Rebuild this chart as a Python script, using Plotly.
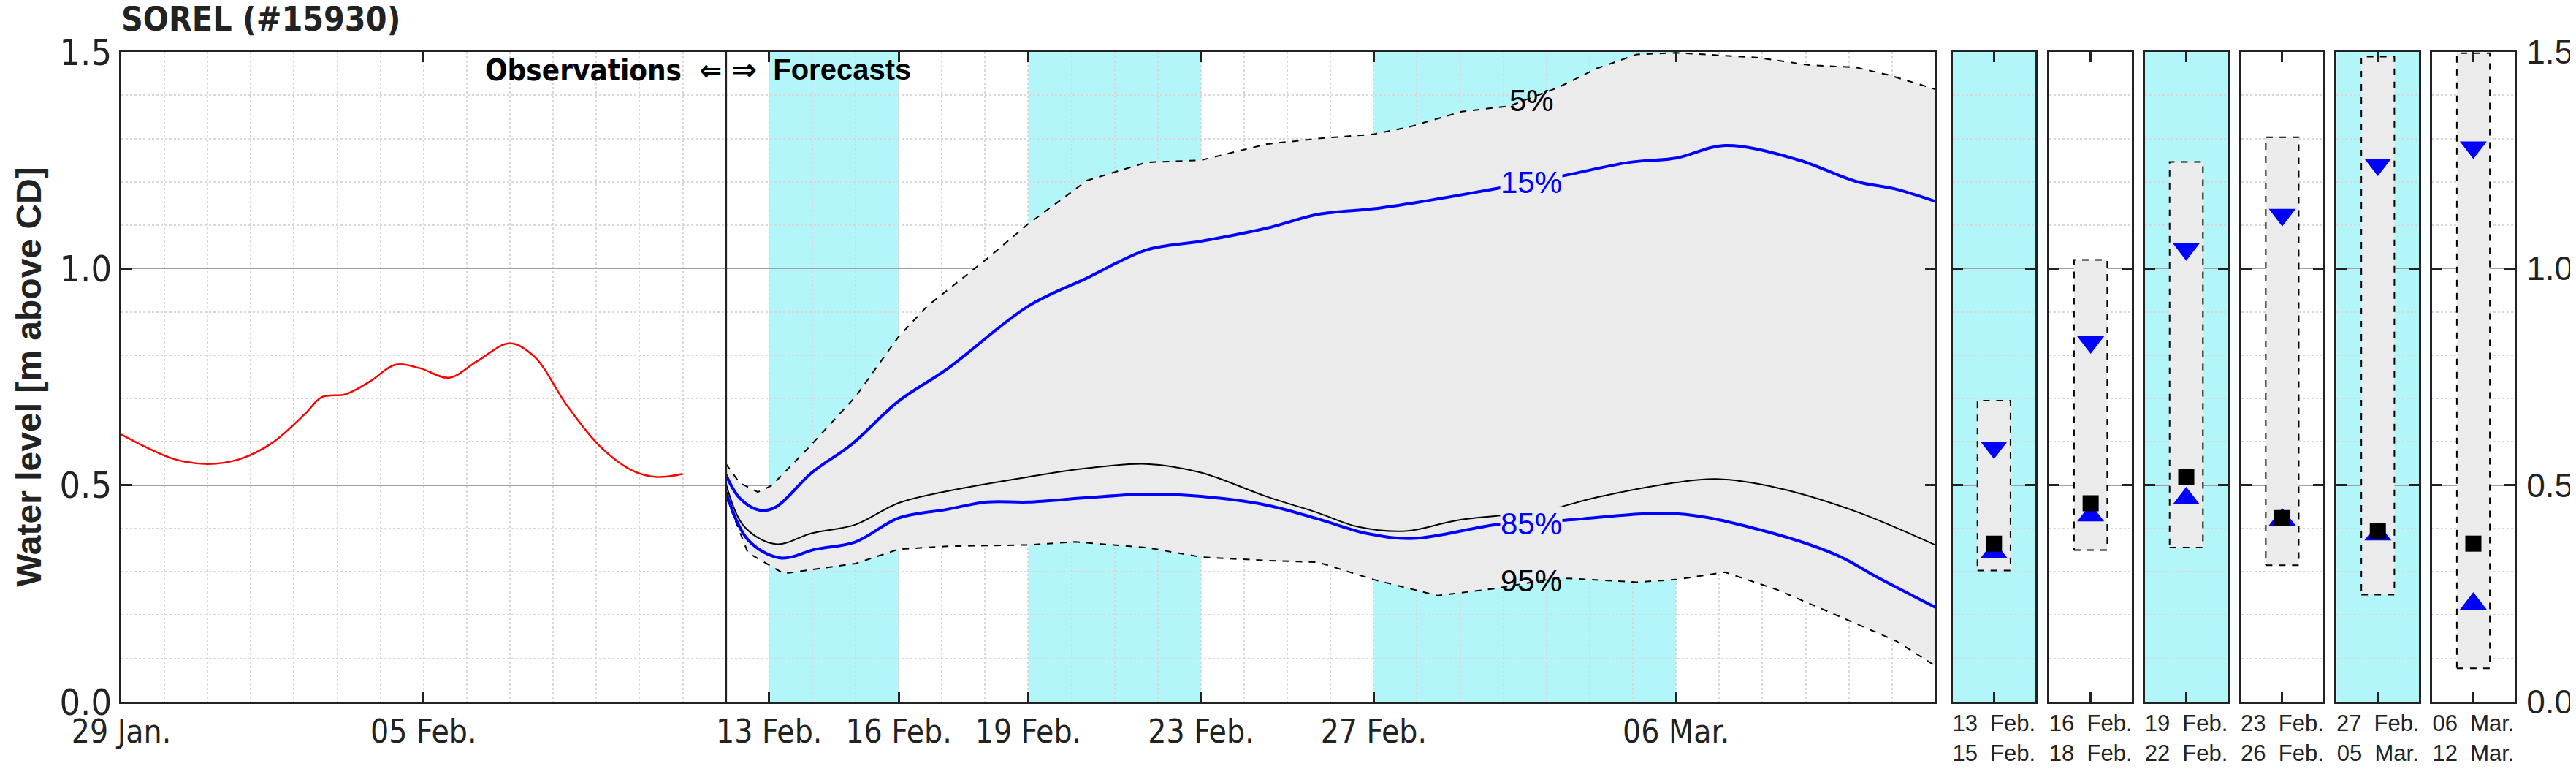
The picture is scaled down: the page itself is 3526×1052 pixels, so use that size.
import pandas as pd
import plotly.graph_objects as go

NARROW = "DejaVu Sans Condensed, Liberation Sans Narrow, sans-serif"
WIDE = "Liberation Sans, Arial, sans-serif"

# observations: days since 29 Jan
obs_days = [0, 1.23, 2.0, 2.74, 3.5, 4.26, 4.64, 5.2, 5.77, 6.34, 6.91, 7.59, 8.24, 8.99, 9.56,
            10.32, 11.08, 11.83, 12.4, 13.0]
obs_vals = [0.617, 0.56, 0.549, 0.56, 0.598, 0.665, 0.703, 0.71, 0.74, 0.778, 0.77, 0.748, 0.786,
            0.827, 0.797, 0.684, 0.59, 0.534, 0.519, 0.526]

# forecasts: days since 12 Feb
p05_days = [0, 0.32, 0.74, 1.06, 1.89, 3.0, 4.0, 4.66, 6.05, 7.0, 8.36, 9.74, 11.0, 12.51, 13.71,
            15.0, 15.83, 17.03, 18.14, 19.25, 20.17, 21.09, 22.0, 22.94, 23.86, 25.06, 26.17, 26.91, 28.0]
p05_vals = [0.549, 0.505, 0.484, 0.499, 0.584, 0.704, 0.843, 0.913, 1.023, 1.103, 1.203, 1.245, 1.25,
            1.287, 1.300, 1.310, 1.327, 1.362, 1.375, 1.417, 1.462, 1.494, 1.498, 1.492, 1.487, 1.470,
            1.464, 1.447, 1.414]
p15_days = [0, 0.32, 0.78, 1.15, 1.99, 2.91, 4.0, 5.12, 7.0, 8.36, 9.74, 11.0, 12.51, 13.71, 15.0,
            16.02, 17.86, 19.43, 20.91, 22.0, 23.13, 24.79, 26.17, 27.1, 28.0]
p15_vals = [0.524, 0.47, 0.442, 0.449, 0.529, 0.594, 0.694, 0.768, 0.913, 0.978, 1.043, 1.063, 1.093,
            1.125, 1.138, 1.153, 1.185, 1.215, 1.245, 1.255, 1.284, 1.252, 1.201, 1.183, 1.155]
p50_days = [0, 0.42, 1.15, 1.99, 3.0, 4.0, 5.12, 7.0, 8.36, 9.74, 11.0, 12.51, 13.71, 14.63, 15.74,
            16.94, 18.97, 20.17, 22.0, 22.94, 24.33, 26.17, 28.0]
p50_vals = [0.504, 0.405, 0.364, 0.389, 0.409, 0.459, 0.486, 0.519, 0.539, 0.549, 0.529, 0.474, 0.436,
            0.404, 0.394, 0.419, 0.442, 0.472, 0.506, 0.514, 0.494, 0.439, 0.362]
p85_days = [0, 0.51, 1.25, 2.08, 3.0, 4.0, 5.12, 6.05, 7.0, 8.36, 9.74, 11.0, 12.51, 13.71, 14.82,
            15.92, 17.86, 19.43, 22.0, 23.86, 25.71, 26.63, 28.0]
p85_vals = [0.484, 0.374, 0.332, 0.352, 0.369, 0.424, 0.444, 0.461, 0.461, 0.471, 0.479, 0.474, 0.454,
            0.422, 0.389, 0.377, 0.409, 0.419, 0.434, 0.399, 0.339, 0.289, 0.218]
p95_days = [0, 0.51, 1.34, 3.0, 4.0, 5.12, 7.0, 8.08, 9.74, 11.0, 12.51, 13.71, 15.0, 16.48, 17.86,
            19.25, 21.09, 22.0, 23.13, 24.33, 25.71, 27.1, 28.0]
p95_vals = [0.474, 0.344, 0.296, 0.319, 0.352, 0.359, 0.362, 0.369, 0.356, 0.334, 0.326, 0.322, 0.282,
            0.245, 0.262, 0.286, 0.276, 0.282, 0.299, 0.259, 0.20, 0.14, 0.083]

# summary panels
panel_labels = ["13  Feb.<br>15  Feb.", "16  Feb.<br>18  Feb.", "19  Feb.<br>22  Feb.",
                "23  Feb.<br>26  Feb.", "27  Feb.<br>05  Mar.", "06  Mar.<br>12  Mar."]
panel_cyan = [True, False, True, False, True, False]
box_low = [0.303, 0.35, 0.356, 0.315, 0.247, 0.077]
box_high = [0.695, 1.02, 1.246, 1.303, 1.489, 1.497]
tri_down = [0.587, 0.83, 1.045, 1.124, 1.24, 1.28]
tri_up = [0.345, 0.43, 0.469, 0.42, 0.386, 0.226]
median_sq = [0.365, 0.458, 0.519, 0.424, 0.395, 0.365]

bands = [("2023-02-13", "2023-02-16"), ("2023-02-19", "2023-02-23"), ("2023-02-27", "2023-03-06")]

obs_start = pd.Timestamp("2023-01-29")
fc_start = pd.Timestamp("2023-02-12")
def to_dates(base, days):
    return [base + pd.Timedelta(days=d) for d in days]

CYAN = "#b3f6fa"
BAND = "#ebebeb"
BLUE = "#0000ff"

fig = go.Figure()
x05, x95 = to_dates(fc_start, p05_days), to_dates(fc_start, p95_days)
fig.add_trace(go.Scatter(x=x05 + x95[::-1], y=p05_vals + p95_vals[::-1], fill="toself", mode="lines",
                         fillcolor=BAND, line=dict(width=0), hoverinfo="skip"))
fig.add_trace(go.Scatter(x=x05, y=p05_vals, mode="lines", line=dict(color="black", width=2, dash="dash")))
fig.add_trace(go.Scatter(x=x95, y=p95_vals, mode="lines", line=dict(color="black", width=2, dash="dash")))
fig.add_trace(go.Scatter(x=to_dates(fc_start, p50_days), y=p50_vals, mode="lines",
                         line=dict(color="black", width=2, shape="spline")))
fig.add_trace(go.Scatter(x=to_dates(fc_start, p15_days), y=p15_vals, mode="lines",
                         line=dict(color=BLUE, width=4, shape="spline")))
fig.add_trace(go.Scatter(x=to_dates(fc_start, p85_days), y=p85_vals, mode="lines",
                         line=dict(color=BLUE, width=4, shape="spline")))
fig.add_trace(go.Scatter(x=to_dates(obs_start, obs_days), y=obs_vals, mode="lines",
                         line=dict(color="red", width=2.5, shape="spline")))

label_x = fc_start + pd.Timedelta(days=18.65)
for txt, yv, col, bg in [("5%", 1.387, "black", None), ("15%", 1.198, BLUE, BAND),
                         ("85%", 0.411, BLUE, BAND), ("95%", 0.279, "black", None)]:
    fig.add_annotation(x=label_x, y=yv, text=txt, showarrow=False, bgcolor=bg,
                       font=dict(family=WIDE, size=42, color=col), borderpad=0)

for a, b in bands:
    fig.add_shape(type="rect", xref="x", yref="y domain", x0=a, x1=b, y0=0, y1=1,
                  fillcolor=CYAN, line_width=0, layer="below")
fig.add_shape(type="line", xref="x", yref="y domain", x0=fc_start, x1=fc_start, y0=0, y1=1,
              line=dict(color="#222", width=3))
fig.add_annotation(x=fc_start, y=1.5, xref="x", yref="y", text="<b>Observations  ⇐</b>", xanchor="right",
                   yanchor="top", showarrow=False, xshift=-4, font=dict(family=NARROW, size=40, color="black"))
fig.add_annotation(x=fc_start, y=1.5, xref="x", yref="y", text="<b>⇒  Forecasts</b>", xanchor="left",
                   yanchor="top", showarrow=False, xshift=6, font=dict(family=WIDE, size=40, color="black"))

main_ticks = ["2023-01-29", "2023-02-05", "2023-02-13", "2023-02-16", "2023-02-19", "2023-02-23",
              "2023-02-27", "2023-03-06"]
main_text = ["29 Jan.", "05 Feb.", "13 Feb.", "16 Feb.", "19 Feb.", "23 Feb.", "27 Feb.", "06 Mar."]

axis_common = dict(showline=True, linecolor="#222", linewidth=3, mirror="ticks", ticks="inside",
                   tickcolor="#222", ticklen=14, tickwidth=3)
yaxis_common = dict(axis_common, range=[0, 1.5], tickvals=[0, 0.5, 1.0, 1.5], showgrid=True,
                    gridcolor="#a0a0a0", gridwidth=2, zeroline=False,
                    minor=dict(dtick=0.1, showgrid=True, gridcolor="#d8d8d8", griddash="dot", gridwidth=2))

domains = [[0.7652, 0.7997], [0.8055, 0.8402], [0.8454, 0.8802], [0.8857, 0.9201], [0.9256, 0.9601], [0.9655, 1.0]]

layout = dict(
    width=3526, height=1052, plot_bgcolor="white", paper_bgcolor="white", showlegend=False,
    margin=dict(l=158, r=88, t=63, b=92),
    xaxis=dict(axis_common, domain=[0, 0.7579], type="date", range=["2023-01-29", "2023-03-12"],
               tickvals=main_ticks, ticktext=main_text, showgrid=False,
               tickfont=dict(family=NARROW, size=44, color="#222"),
               minor=dict(dtick=86400000, tick0="2023-01-29", showgrid=True, gridcolor="#d8d8d8",
                          griddash="dot", gridwidth=2)),
    yaxis=dict(yaxis_common, ticktext=["0.0", "0.5", "1.0", "1.5"],
               tickfont=dict(family=NARROW, size=50, color="#222"),
               title=dict(text="<b>Water level [m above CD]</b>", standoff=10,
                          font=dict(family=WIDE, size=48, color="#222"))),
    title=dict(text="<b>SOREL (#15930)</b>", x=158 / 3526, xanchor="left", y=0.998, yanchor="top",
               pad=dict(t=0), font=dict(family=NARROW, size=46, color="#222")),
)

for i in range(6):
    n = i + 2
    xa, ya = f"x{n}", f"y{n}"
    fig.add_trace(go.Scatter(x=[0.3, 0.7, 0.7, 0.3, 0.3],
                             y=[box_low[i], box_low[i], box_high[i], box_high[i], box_low[i]],
                             mode="lines", fill="toself", fillcolor=BAND,
                             line=dict(color="black", width=2, dash="dash"), xaxis=xa, yaxis=ya))
    fig.add_trace(go.Scatter(x=[0.5], y=[tri_down[i]], mode="markers", xaxis=xa, yaxis=ya,
                             marker=dict(symbol="triangle-down", size=32, color=BLUE)))
    fig.add_trace(go.Scatter(x=[0.5], y=[tri_up[i]], mode="markers", xaxis=xa, yaxis=ya,
                             marker=dict(symbol="triangle-up", size=32, color=BLUE)))
    fig.add_trace(go.Scatter(x=[0.5], y=[median_sq[i]], mode="markers", xaxis=xa, yaxis=ya,
                             marker=dict(symbol="square", size=22, color="black")))
    if panel_cyan[i]:
        fig.add_shape(type="rect", xref=f"{xa} domain", yref=f"{ya} domain", x0=0, x1=1, y0=0, y1=1,
                      fillcolor=CYAN, line_width=0, layer="below")
    layout[f"xaxis{n}"] = dict(axis_common, domain=domains[i], range=[0, 1], anchor=ya, tickvals=[0.5],
                               ticktext=[panel_labels[i]], showgrid=False, zeroline=False,
                               tickfont=dict(family=WIDE, size=31, color="#222"))
    ya_cfg = dict(yaxis_common, anchor=xa, showticklabels=False)
    if i == 5:
        ya_cfg.update(showticklabels=True, side="right", ticktext=["0.0", "0.5", "1.0", "1.5"],
                      tickfont=dict(family=WIDE, size=46, color="#222"), ticklabelstandoff=4)
    layout[f"yaxis{n}"] = ya_cfg

fig.update_layout(**layout)
fig.write_html("out.html")
